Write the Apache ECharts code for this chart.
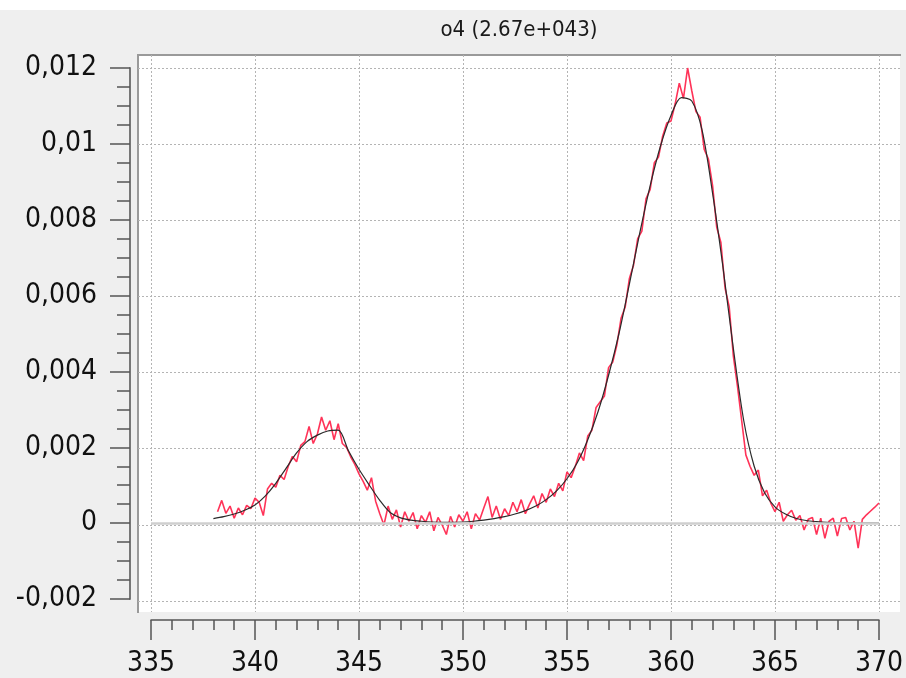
<!DOCTYPE html>
<html>
<head>
<meta charset="utf-8">
<script src="https://cdn.jsdelivr.net/npm/echarts@6/dist/echarts.min.js"></script>
<style>
  html, body { margin: 0; padding: 0; background: #efefef; }
  #chart { width: 906px; height: 678px; }
</style>
</head>
<body>
<div id="chart"></div>
<script>
// Spectrum o4: measured signal (red) and fitted two-peak curve (black)
const titleText = 'o4 (2.67e+043)';

// measured samples, from 338.2 to 370.0 every 0.2
const measuredStart = 338.2;
const measuredStep = 0.2;
const measuredValues = [
  0.00030, 0.00060, 0.00026, 0.00045, 0.00013,
  0.00040, 0.00022, 0.00047, 0.00038, 0.00066,
  0.00055, 0.00020, 0.00090, 0.00105, 0.00095,
  0.00126, 0.00115, 0.00150, 0.00176, 0.00162,
  0.00205, 0.00215, 0.00255, 0.00210, 0.00235,
  0.00280, 0.00245, 0.00270, 0.00220, 0.00262,
  0.00210, 0.00200, 0.00175, 0.00155, 0.00130,
  0.00110, 0.00087, 0.00120, 0.00058, 0.00025,
  -0.00005, 0.00045, 0.00010, 0.00035, -0.00010,
  0.00030, 0.00005, 0.00028, -0.00015, 0.00020,
  0.00002, 0.00030, -0.00020, 0.00015, -0.00005,
  -0.00030, 0.00018, -0.00010, 0.00022, 0.00005,
  0.00030, -0.00015, 0.00025, 0.00008, 0.00040,
  0.00070, 0.00015, 0.00045, 0.00010, 0.00038,
  0.00020, 0.00055, 0.00030, 0.00062, 0.00025,
  0.00050, 0.00072, 0.00040, 0.00078, 0.00055,
  0.00090, 0.00070, 0.00105, 0.00085, 0.00135,
  0.00120, 0.00150, 0.00185, 0.00165, 0.00230,
  0.00245, 0.00305, 0.00320, 0.00335, 0.00410,
  0.00425, 0.00470, 0.00540, 0.00570, 0.00645,
  0.00680, 0.00750, 0.00770, 0.00855, 0.00880,
  0.00950, 0.00965, 0.01020, 0.01055, 0.01060,
  0.01105, 0.01160, 0.01120, 0.01200, 0.01140,
  0.01085, 0.01070, 0.00985, 0.00960, 0.00890,
  0.00780, 0.00740, 0.00620, 0.00570, 0.00440,
  0.00360, 0.00270, 0.00180, 0.00150, 0.00126,
  0.00140, 0.00072, 0.00087, 0.00053, 0.00030,
  0.00055, 0.00005, 0.00022, 0.00034, 0.00008,
  0.00020, -0.00018, 0.00010, 0.00015, -0.00030,
  0.00013, -0.00040, 0.00005, 0.00013, -0.00034,
  0.00012, 0.00015, -0.00018, 0.00005, -0.00066,
  0.00010, 0.00022, 0.00032, 0.00042, 0.00053
];

// fitted curve, from 338.0 to 370.0 every 0.5
const fitStart = 338.0;
const fitStep = 0.5;
const fitValues = [
  0.00012, 0.00017, 0.00024, 0.00034, 0.00048, 0.00072, 0.00105, 0.00145,
  0.00185, 0.00215, 0.00232, 0.00243, 0.00245, 0.00190, 0.00142, 0.00100,
  0.00060, 0.00028, 0.00014, 0.00008, 0.00005, 0.00003, 0.00002, 0.00002,
  0.00003, 0.00005, 0.00008, 0.00012, 0.00017, 0.00024, 0.00033, 0.00045,
  0.00062, 0.00085, 0.00117, 0.00160, 0.00220, 0.00295, 0.00390, 0.00500,
  0.00630, 0.00765, 0.00890, 0.00995, 0.01075, 0.01122, 0.01113, 0.01035,
  0.00870, 0.00675, 0.00460, 0.00270, 0.00150, 0.00080, 0.00043, 0.00024,
  0.00013, 0.00007, 0.00004, 0.00002, 0.00001, 0.00001, 0, 0, 0
];

// axis ranges
const xMin = 335, xMax = 370, xInterval = 5;
const yMin = -0.002, yMax = 0.012, yInterval = 0.002;

function pairs(start, step, values) {
  return values.map((v, i) => [+(start + i * step).toFixed(3), v]);
}

const labelFont = "'DejaVu Sans Condensed', 'DejaVu Sans', sans-serif";
const axisColor = '#555';
const gridLineStyle = { color: '#b4b4b4', type: [2, 2], width: 1 };

const chart = echarts.init(document.getElementById('chart'), null, { renderer: 'canvas' });

chart.setOption({
  backgroundColor: '#efefef',
  animation: false,
  graphic: [
    { type: 'rect', z: -100, shape: { x: 0, y: 0, width: 906, height: 10 }, style: { fill: '#ffffff' } },
    { type: 'rect', z: -100, shape: { x: 138, y: 55, width: 762, height: 557 }, style: { fill: '#ffffff' } },
    { type: 'polyline', z: -90, shape: { points: [[138, 613], [138, 55], [901, 55]] },
      style: { stroke: '#9a9a9a', lineWidth: 2, fill: null } },
    { type: 'text', x: 519, y: 30,
      style: { text: titleText, font: "22px 'DejaVu Sans Condensed', 'DejaVu Sans', sans-serif",
               fill: '#1a1a1a', textAlign: 'center', textVerticalAlign: 'middle' } }
  ],
  grid: [
    { left: 151, right: 27, top: 68, bottom: 77 },
    { left: 138, right: 6, top: 68, bottom: 77 },
    { left: 151, right: 27, top: 55, bottom: 66 }
  ],
  xAxis: [
    {
      gridIndex: 0, type: 'value', min: xMin, max: xMax, interval: xInterval, offset: 21,
      axisLine: { show: true, onZero: false, lineStyle: { color: axisColor, width: 1.5 } },
      axisTick: { show: true, length: 20, lineStyle: { color: axisColor, width: 1.5 } },
      minorTick: { show: true, splitNumber: 5, length: 10, lineStyle: { color: axisColor, width: 1.5 } },
      axisLabel: { margin: 30, color: '#111', fontSize: 28, fontFamily: labelFont, showMinLabel: true, showMaxLabel: true },
      splitLine: { show: false }
    },
    { gridIndex: 1, type: 'value', min: 0, max: 1, show: false },
    {
      gridIndex: 2, type: 'value', min: xMin, max: xMax, interval: xInterval,
      axisLine: { show: false }, axisTick: { show: false }, axisLabel: { show: false },
      splitLine: { show: true, lineStyle: gridLineStyle }
    }
  ],
  yAxis: [
    {
      gridIndex: 0, type: 'value', min: yMin, max: yMax, interval: yInterval, offset: 21,
      axisLine: { show: true, onZero: false, lineStyle: { color: '#777', width: 2 } },
      axisTick: { show: true, length: 20, lineStyle: { color: axisColor, width: 1.5 } },
      minorTick: { show: true, splitNumber: 4, length: 13, lineStyle: { color: axisColor, width: 1.5 } },
      axisLabel: {
        margin: 33, color: '#111', fontSize: 28, fontFamily: labelFont,
        formatter: v => String(parseFloat(v.toFixed(6))).replace('.', ',')
      },
      splitLine: { show: false }
    },
    {
      gridIndex: 1, type: 'value', min: yMin, max: yMax, interval: yInterval,
      axisLine: { show: false }, axisTick: { show: false }, axisLabel: { show: false },
      splitLine: { show: true, lineStyle: gridLineStyle }
    },
    { gridIndex: 2, type: 'value', min: 0, max: 1, show: false }
  ],
  series: [
    {
      name: 'measured', type: 'line', xAxisIndex: 0, yAxisIndex: 0,
      data: pairs(measuredStart, measuredStep, measuredValues),
      showSymbol: false, clip: false, z: 3,
      lineStyle: { color: '#ff3358', width: 1.6 },
      markLine: {
        silent: true, symbol: 'none', label: { show: false },
        lineStyle: { color: '#cfcfcf', type: 'solid', width: 2.5 },
        data: [{ yAxis: 0 }]
      }
    },
    {
      name: 'fit', type: 'line', xAxisIndex: 0, yAxisIndex: 0,
      data: pairs(fitStart, fitStep, fitValues),
      showSymbol: false, clip: false, smooth: 0.3, z: 4,
      lineStyle: { color: '#2a2a2a', width: 1.2 }
    }
  ]
});
</script>
</body>
</html>
